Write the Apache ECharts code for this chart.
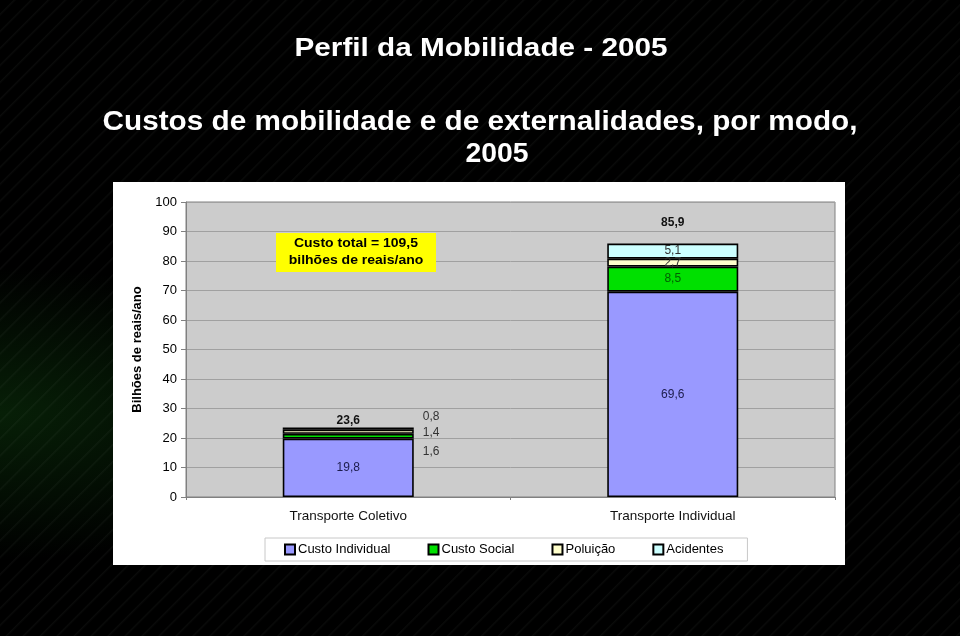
<!DOCTYPE html>
<html>
<head>
<meta charset="utf-8">
<script src="https://cdn.jsdelivr.net/npm/echarts@6/dist/echarts.min.js"></script>
<style>
html,body{margin:0;padding:0;width:960px;height:636px;overflow:hidden;
background:#000;}
#bg{position:absolute;left:0;top:0;width:960px;height:636px;
background:
 repeating-linear-gradient(135deg, rgba(255,255,255,0) 0px, rgba(255,255,255,0) 9px, rgba(140,150,140,0.07) 10px, rgba(255,255,255,0) 12px),
 radial-gradient(ellipse at 0% 65%, rgba(20,90,20,0.35) 0%, rgba(0,0,0,0) 25%),
 #000;}
#chart{position:absolute;left:0;top:0;width:960px;height:636px;}
</style>
</head>
<body>
<div id="bg"></div>
<div id="chart"></div>
<script>
var categories = ['Transporte Coletivo', 'Transporte Individual'];
var custoIndividual = [19.8, 69.6];
var custoSocial = [1.6, 8.5];
var poluicao = [1.4, 2.7];
var acidentes = [0.8, 5.1];
var totals = [23.6, 85.9];
var yTicks = [0, 10, 20, 30, 40, 50, 60, 70, 80, 90, 100];
var seriesNames = ['Custo Individual', 'Custo Social', 'Poluição', 'Acidentes'];
var colors = ['#9999FF', '#00E000', '#FFFFCC', '#CCFFFF'];
var titleMain = 'Perfil da Mobilidade - 2005';
var titleSub1 = 'Custos de mobilidade e de externalidades, por modo,';
var titleSub2 = '2005';
var noteText = 'Custo total = 109,5\nbilhões de reais/ano';

function fmt(v){ return String(v).replace('.', ','); }

var measureCtx = document.createElement('canvas').getContext('2d');
function textW(txt, font){ measureCtx.font = font; return measureCtx.measureText(txt).width; }

var TF = 'Liberation Sans, Arial, sans-serif';
function titleText(txt, size, cx, cy, targetW) {
  var font = 'bold ' + size + 'px ' + TF;
  var sx = targetW ? targetW / textW(txt, font) : 1;
  return {type:'text', z: 20, silent:true, x: cx, y: cy, scaleX: sx,
    style:{text: txt, fill:'#fff', font: font, align:'center', verticalAlign:'middle'}};
}

var chart = echarts.init(document.getElementById('chart'), null, {renderer:'canvas'});

var labelFont = {fontFamily: TF, fontSize: 12};

function seg(name, values, color, labelColor, coletivoOffset) {
  return {
    name: name, type: 'bar', stack: 'total', barWidth: 131,
    itemStyle: {color: color, borderColor: '#000', borderWidth: 1.6},
    data: values.map(function(v, i){
      var item = {value: v};
      if (i === 0 && coletivoOffset) {
        item.label = {show:true, position:'right', distance: 9, offset: coletivoOffset, color:'#333'};
      }
      return item;
    }),
    label: Object.assign({show:true, position:'inside', color: labelColor,
      formatter: function(p){ return fmt(p.value); }}, labelFont),
    emphasis: {disabled: true}
  };
}

var series = [
  seg(seriesNames[0], custoIndividual, colors[0], '#1c1c4c', null),
  seg(seriesNames[1], custoSocial, colors[1], '#006000', [0, 15.5]),
  seg(seriesNames[2], poluicao, colors[2], '#333', [0, 1]),
  seg(seriesNames[3], acidentes, colors[3], '#333', [0, -12])
];
series.push({
  name: 'Total', type: 'bar', stack: 'total', barWidth: 131,
  itemStyle: {color: 'rgba(0,0,0,0)'},
  data: totals.map(function(t, i){
    return {value: 0, label: {offset: [0, i === 0 ? 4 : -10]}};
  }),
  label: {show: true, position: 'top', color: '#111', fontWeight: 'bold',
    fontFamily: TF, fontSize: 12,
    formatter: function(p){ return fmt(totals[p.dataIndex]); }},
  emphasis: {disabled: true}
});

chart.setOption({
  animation: false,
  backgroundColor: 'transparent',
  graphic: [
    {type:'rect', z: -10, silent:true, shape:{x:113, y:182, width:732, height:383}, style:{fill:'#fff'}},
    {type:'rect', z: 10, silent:true, shape:{x:276, y:233, width:160, height:39}, style:{fill:'#FFFF00'}},
    {type:'text', z: 11, silent:true, x: 356, y: 252.5, scaleX: 1.12,
     style:{text: noteText, fill:'#000', font:'bold 12.5px ' + TF, lineHeight:17, align:'center', verticalAlign:'middle'}},
    titleText(titleMain, 26, 481, 48.5, 373),
    titleText(titleSub1, 28, 480, 122, 755),
    titleText(titleSub2, 28, 497, 154.5, 63)
  ],
  legend: {
    data: seriesNames, left: 265, top: 538,
    backgroundColor: '#fff', borderColor: '#c8c8c8', borderWidth: 1,
    padding: [5, 24, 5, 19], itemWidth: 10, itemHeight: 10, itemGap: 37,
    icon: 'rect', selectedMode: false,
    textStyle: {color:'#000', fontSize: 13, padding:[0,0,0,-2], fontFamily: TF}
  },
  grid: {left: 186, top: 202, right: 125, bottom: 139, show: true,
    backgroundColor: '#CCCCCC', borderColor: '#808080', borderWidth: 1},
  xAxis: {
    type: 'category', data: categories,
    axisLine: {lineStyle: {color:'#808080'}},
    axisTick: {show: true, length: 3, lineStyle:{color:'#808080'}},
    axisLabel: {color:'#111', fontSize: 13.5, margin: 12, fontFamily: TF}
  },
  yAxis: {
    type: 'value', min: yTicks[0], max: yTicks[yTicks.length-1], interval: 10,
    name: 'Bilhões de reais/ano', nameLocation: 'middle', nameGap: 42, nameRotate: 90,
    nameTextStyle: {color:'#000', fontSize: 13, fontWeight:'bold', fontFamily: TF},
    axisLine: {show: true, lineStyle: {color:'#808080'}},
    axisTick: {show: true, length: 5, lineStyle:{color:'#808080'}},
    axisLabel: {color:'#000', fontSize: 13, margin: 9, fontFamily: TF},
    splitLine: {lineStyle: {color:'#A0A0A0', width: 1}}
  },
  series: series
});
</script>
</body>
</html>
